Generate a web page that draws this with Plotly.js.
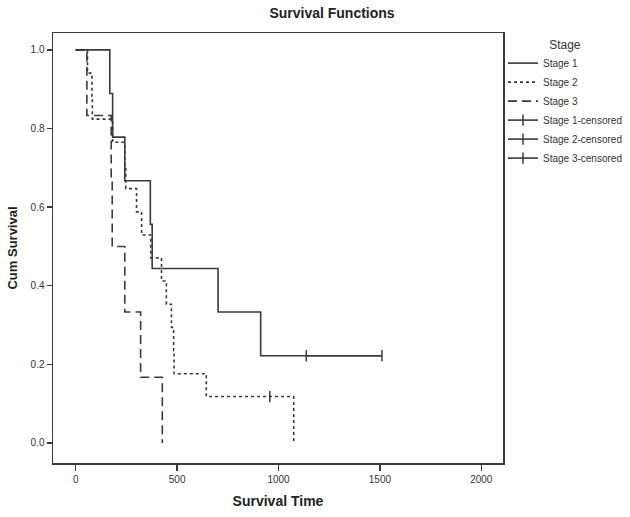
<!DOCTYPE html>
<html>
<head>
<meta charset="utf-8">
<script src="https://cdn.plot.ly/plotly-3.0.1.min.js"></script>
<style>html,body{margin:0;padding:0;background:#fff}#chart{width:630px;height:517px}</style>
</head>
<body>
<div id="chart"></div>
<script>
// Kaplan-Meier survival data
var stage1Time = [0, 168, 182, 242, 368, 377, 702, 912, 1510];
var stage1Surv = [1, 0.889, 0.778, 0.667, 0.556, 0.444, 0.333, 0.222, 0.222];
var stage1CensTime = [1137, 1510];
var stage1CensSurv = [0.222, 0.222];

var stage2Time = [0, 58, 80, 82, 182, 242, 247, 300, 325, 370, 423, 447, 472, 483, 485, 644, 1075];
var stage2Surv = [1, 0.941, 0.882, 0.824, 0.765, 0.706, 0.647, 0.588, 0.529, 0.471, 0.412, 0.353, 0.294, 0.235, 0.176, 0.118, 0];
var stage2CensTime = [957];
var stage2CensSurv = [0.118];

var stage3Time = [0, 55, 175, 180, 242, 320, 427];
var stage3Surv = [1, 0.833, 0.667, 0.5, 0.333, 0.167, 0];
var stage3CensTime = [];
var stage3CensSurv = [];

var seriesNames = ['Stage 1', 'Stage 2', 'Stage 3'];
var xTickVals = [0, 500, 1000, 1500, 2000];
var yTickVals = [0, 0.2, 0.4, 0.6, 0.8, 1.0];

var ink = '#3a3a3a';
var FONT = 'Arial, "Liberation Sans", sans-serif';

function stepTrace(x, y, name, dash) {
  return {x: x, y: y, name: name, type: 'scatter', mode: 'lines',
    line: {shape: 'hv', color: ink, width: 1.6, dash: dash}, hoverinfo: 'skip'};
}
function censTrace(x, y, name) {
  // an empty series still gets its legend entry (as in the reference)
  var xs = x.length ? x : [null];
  var ys = y.length ? y : [null];
  return {x: xs, y: ys, name: name, type: 'scatter', mode: 'lines+markers',
    line: {color: ink, width: 1.6},
    marker: {symbol: 'line-ns-open', size: 8, color: ink, line: {color: ink, width: 1.5}},
    hoverinfo: 'skip'};
}

var data = [
  stepTrace(stage1Time, stage1Surv, seriesNames[0], 'solid'),
  stepTrace(stage2Time, stage2Surv, seriesNames[1], 'dot'),
  stepTrace(stage3Time, stage3Surv, seriesNames[2], '9px,5px'),
  censTrace(stage1CensTime, stage1CensSurv, seriesNames[0] + '-censored'),
  censTrace(stage2CensTime, stage2CensSurv, seriesNames[1] + '-censored'),
  censTrace(stage3CensTime, stage3CensSurv, seriesNames[2] + '-censored')
];

var layout = {
  width: 630, height: 517,
  margin: {l: 53, r: 127, t: 33, b: 54, autoexpand: false},
  paper_bgcolor: '#fff', plot_bgcolor: '#fff',
  font: {family: FONT, color: ink, size: 10},
  title: {text: '<b>Survival Functions</b>', font: {family: FONT, size: 14, color: '#222'},
    x: 0.527, xref: 'container', xanchor: 'center', y: 0.975, yref: 'container', yanchor: 'middle'},
  xaxis: {
    range: [-112, 2107], tickvals: xTickVals, ticktext: xTickVals.map(String),
    ticks: 'outside', ticklen: 6, tickwidth: 1.3, tickcolor: ink,
    showline: true, mirror: true, linecolor: ink, linewidth: 1.5,
    showgrid: false, zeroline: false,
    tickfont: {size: 10, color: '#333'},
    title: {text: '<b>Survival Time</b>', font: {size: 14, color: '#222'}, standoff: 12}
  },
  yaxis: {
    range: [-0.051, 1.043], tickvals: yTickVals, ticktext: yTickVals.map(function(v){return v.toFixed(1);}),
    ticks: 'outside', ticklen: 5, tickwidth: 1.3, tickcolor: ink,
    showline: true, mirror: true, linecolor: ink, linewidth: 1.5,
    showgrid: false, zeroline: false,
    tickfont: {size: 10, color: '#333'},
    title: {text: '<b>Cum Survival</b>', font: {size: 13, color: '#222'}, standoff: 10}
  },
  showlegend: true,
  legend: {
    x: 1.0, xanchor: 'left', y: 1.0, yanchor: 'top',
    bgcolor: 'rgba(0,0,0,0)', borderwidth: 0,
    font: {size: 10, color: '#333'},
    itemwidth: 30, tracegroupgap: 0,
    title: {text: 'Stage', side: 'top center', font: {size: 12, color: '#333'}}
  }
};

Plotly.newPlot('chart', data, layout, {staticPlot: true, displayModeBar: false});
</script>
</body>
</html>
